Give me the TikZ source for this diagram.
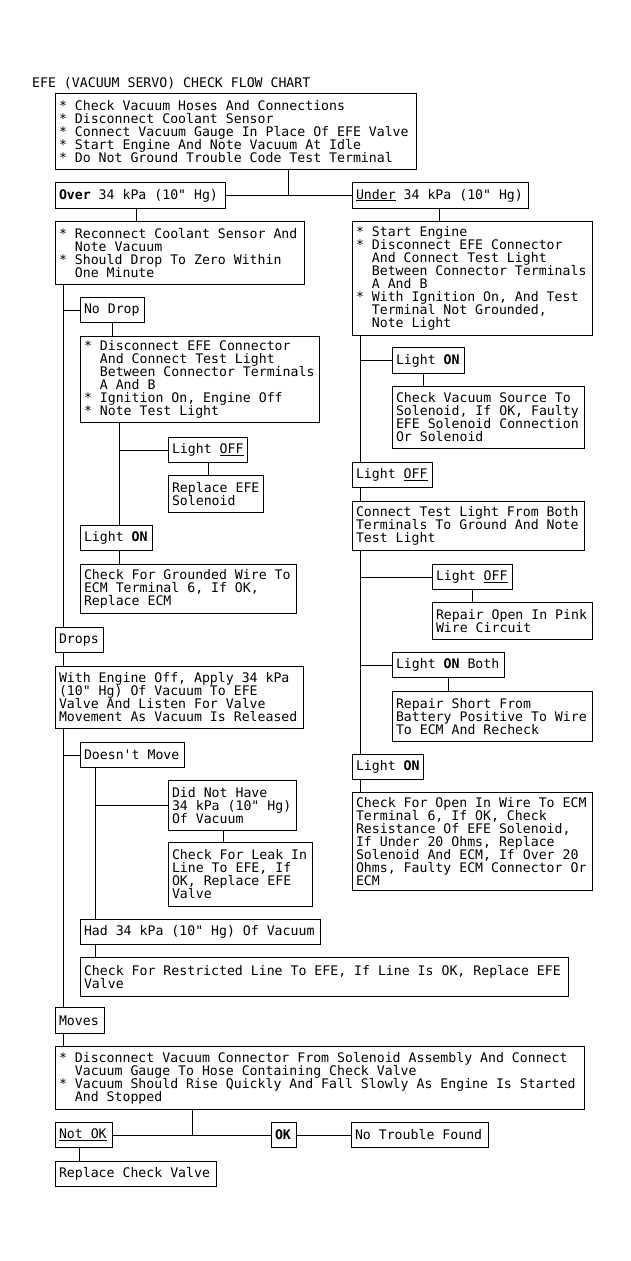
\documentclass[tikz,border=0pt]{standalone}
\usepackage{fontspec}
\setmonofont{DejaVu Sans Mono}
\usepackage{tikz}

\newcommand{\ind}{\hphantom{M~}}
\newcommand{\fixsp}{\spaceskip=\fontcharwd\font`M\relax\xspaceskip=\spaceskip\frenchspacing}
\tikzset{
    chart/.style={font=\fontsize{13.2}{13}\selectfont\ttfamily},
    box/.style={draw, line width=1pt, anchor=north west, align=left,
        inner xsep=3.5pt, inner ysep=0pt, chart, execute at begin node=\fixsp},
    wh/.style 2 args={text width=#1, minimum height=#2},
}

\begin{document}
\begin{tikzpicture}[x=1pt, y=-1pt]
    \useasboundingbox (0,0) rectangle (630,1261);

    % Title
    \node[chart, anchor=base west, inner sep=0pt] (title) at (32,87) {EFE (VACUUM SERVO) CHECK FLOW CHART};

    % First checks
    \node[box, wh={354pt}{76pt}] (steps) at (55,93) {{*} Check Vacuum Hoses And Connections\\{*} Disconnect Coolant Sensor\\{*} Connect Vacuum Gauge In Place Of EFE Valve\\{*} Start Engine And Note Vacuum At Idle\\{*} Do Not Ground Trouble Code Test Terminal};
    \node[box, wh={163pt}{26pt}] (over) at (55,182) {\textbf{Over} 34 kPa (10" Hg)};
    \node[box, wh={169pt}{26pt}] (under) at (352,182) {\underline{Under} 34 kPa (10" Hg)};

    % Right column (under)
    \node[box, wh={233pt}{114pt}] (uchk) at (352,221) {{*} Start Engine\\{*} Disconnect EFE Connector\\\ind And Connect Test Light\\\ind Between Connector Terminals\\\ind A And B\\{*} With Ignition On, And Test\\\ind Terminal Not Grounded,\\\ind Note Light};
    \node[box, wh={65pt}{26pt}] (rlon1) at (392,347) {Light \textbf{ON}};
    \node[box, wh={185pt}{62pt}] (rsrc) at (392,386) {Check Vacuum Source To\\Solenoid, If OK, Faulty\\EFE Solenoid Connection\\Or Solenoid};
    \node[box, wh={73pt}{25pt}] (rloff1) at (352,462) {Light \underline{OFF}};
    \node[box, wh={225pt}{49pt}] (rconn) at (352,501) {Connect Test Light From Both\\Terminals To Ground And Note\\Test Light};
    \node[box, wh={73pt}{25pt}] (rloff2) at (432,564) {Light \underline{OFF}};
    \node[box, wh={153pt}{37pt}] (ropen) at (432,602) {Repair Open In Pink\\Wire Circuit};
    \node[box, wh={105pt}{25pt}] (rlonb) at (392,652) {Light \textbf{ON} Both};
    \node[box, wh={193pt}{50pt}] (rshort) at (392,691) {Repair Short From\\Battery Positive To Wire\\To ECM And Recheck};
    \node[box, wh={64pt}{25pt}] (rlon2) at (352,754) {Light \textbf{ON}};
    \node[box, wh={233pt}{98pt}] (rfinal) at (352,792) {Check For Open In Wire To ECM\\Terminal 6, If OK, Check\\Resistance Of EFE Solenoid,\\If Under 20 Ohms, Replace\\Solenoid And ECM, If Over 20\\Ohms, Faulty ECM Connector Or\\ECM};

    % Left column (over)
    \node[box, wh={242pt}{63pt}] (recon) at (55,221) {{*} Reconnect Coolant Sensor And\\\ind Note Vacuum\\{*} Should Drop To Zero Within\\\ind One Minute};
    \node[box, wh={57pt}{25pt}] (lnodrop) at (80,297) {No Drop};
    \node[box, wh={232pt}{86pt}] (ldisc) at (80,336) {{*} Disconnect EFE Connector\\\ind And Connect Test Light\\\ind Between Connector Terminals\\\ind A And B\\{*} Ignition On, Engine Off\\{*} Note Test Light};
    \node[box, wh={72pt}{25pt}] (lloff) at (168,437) {Light \underline{OFF}};
    \node[box, wh={88pt}{37pt}] (lrepl) at (168,475) {Replace EFE\\Solenoid};
    \node[box, wh={65pt}{25pt}] (llon) at (80,525) {Light \textbf{ON}};
    \node[box, wh={209pt}{49pt}] (lgnd) at (80,564) {Check For Grounded Wire To\\ECM Terminal 6, If OK,\\Replace ECM};
    \node[box, wh={41pt}{25pt}] (ldrops) at (55,627) {Drops};
    \node[box, wh={241pt}{62pt}] (lwith) at (55,666) {With Engine Off, Apply 34 kPa\\(10" Hg) Of Vacuum To EFE\\Valve And Listen For Valve\\Movement As Vacuum Is Released};
    \node[box, wh={97pt}{25pt}] (lnomove) at (80,742) {Doesn't Move};
    \node[box, wh={121pt}{50pt}] (ldid) at (168,780) {Did Not Have\\34 kPa (10" Hg)\\Of Vacuum};
    \node[box, wh={137pt}{64pt}] (lleak) at (168,842) {Check For Leak In\\Line To EFE, If\\OK, Replace EFE\\Valve};
    \node[box, wh={233pt}{25pt}] (lhad) at (80,919) {Had 34 kPa (10" Hg) Of Vacuum};
    \node[box, wh={481pt}{39pt}] (lrestr) at (80,957) {Check For Restricted Line To EFE, If Line Is OK, Replace EFE\\Valve};
    \node[box, wh={42pt}{26pt}] (lmoves) at (55,1007) {Moves};

    % Check valve
    \node[box, wh={522pt}{63pt}] (lbig) at (55,1046) {{*} Disconnect Vacuum Connector From Solenoid Assembly And Connect\\\ind Vacuum Gauge To Hose Containing Check Valve\\{*} Vacuum Should Rise Quickly And Fall Slowly As Engine Is Started\\\ind And Stopped};
    \node[box, wh={50pt}{25pt}] (lnotok) at (55,1122) {\underline{Not OK}};
    \node[box, wh={18pt}{25pt}] (lok) at (271,1122) {\textbf{OK}};
    \node[box, wh={130pt}{25pt}] (lntf) at (351,1122) {No Trouble Found};
    \node[box, wh={154pt}{25pt}] (lrcv) at (55,1161) {Replace Check Valve};

    % Connector columns
    \coordinate (j1) at (288,0);
    \coordinate (j2) at (192,0);
    \coordinate (ov) at (136,0);
    \coordinate (ud) at (439,0);
    \coordinate (r1) at (423,0);
    \coordinate (kx) at (223,0);
    \coordinate (nk) at (79,0);
    \coordinate (rs) at (360,0);
    \coordinate (ls) at (63,0);
    \coordinate (ls2) at (119,0);
    \coordinate (ls3) at (95,0);

    % Lines
    \begin{scope}[every path/.style={line width=1pt}]
    \draw (steps.south -| j1) -- (j1 |- over.east);
    \draw (over.east) -- (under.west);
    \draw (over.south -| ov) -- (recon.north -| ov);
    \draw (under.south -| ud) -- (uchk.north -| ud);

    \draw (uchk.south -| rs) -- (rloff1.north -| rs);
    \draw (rloff1.south -| rs) -- (rconn.north -| rs);
    \draw (rconn.south -| rs) -- (rlon2.north -| rs);
    \draw (rlon2.south -| rs) -- (rfinal.north -| rs);
    \draw (rlon1.west -| rs) -- (rlon1.west);
    \draw (rloff2.west -| rs) -- (rloff2.west);
    \draw (rlonb.west -| rs) -- (rlonb.west);
    \draw (rlon1.south -| r1) -- (rsrc.north -| r1);
    \draw (rloff2.south) -- (ropen.north -| rloff2.south);
    \draw (rlonb.south) -- (rshort.north -| rlonb.south);

    \draw (recon.south -| ls) -- (ldrops.north -| ls);
    \draw (ldrops.south -| ls) -- (lwith.north -| ls);
    \draw (lwith.south -| ls) -- (lmoves.north -| ls);
    \draw (lmoves.south -| ls) -- (lbig.north -| ls);
    \draw (lnodrop.west -| ls) -- (lnodrop.west);
    \draw (lnomove.west -| ls) -- (lnomove.west);
    \draw (lnodrop.south) -- (ldisc.north -| lnodrop.south);

    \draw (ldisc.south -| ls2) -- (llon.north -| ls2);
    \draw (llon.south -| ls2) -- (lgnd.north -| ls2);
    \draw (lloff.west -| ls2) -- (lloff.west);
    \draw (lloff.south) -- (lrepl.north -| lloff.south);

    \draw (lnomove.south -| ls3) -- (lhad.north -| ls3);
    \draw (lhad.south -| ls3) -- (lrestr.north -| ls3);
    \draw (ldid.west -| ls3) -- (ldid.west);
    \draw (ldid.south -| kx) -- (lleak.north -| kx);

    \draw (lbig.south -| j2) -- (j2 |- lnotok.east);
    \draw (lnotok.east) -- (lok.west);
    \draw (lok.east) -- (lntf.west);
    \draw (lnotok.south -| nk) -- (lrcv.north -| nk);
    \end{scope}

\end{tikzpicture}
\end{document}
